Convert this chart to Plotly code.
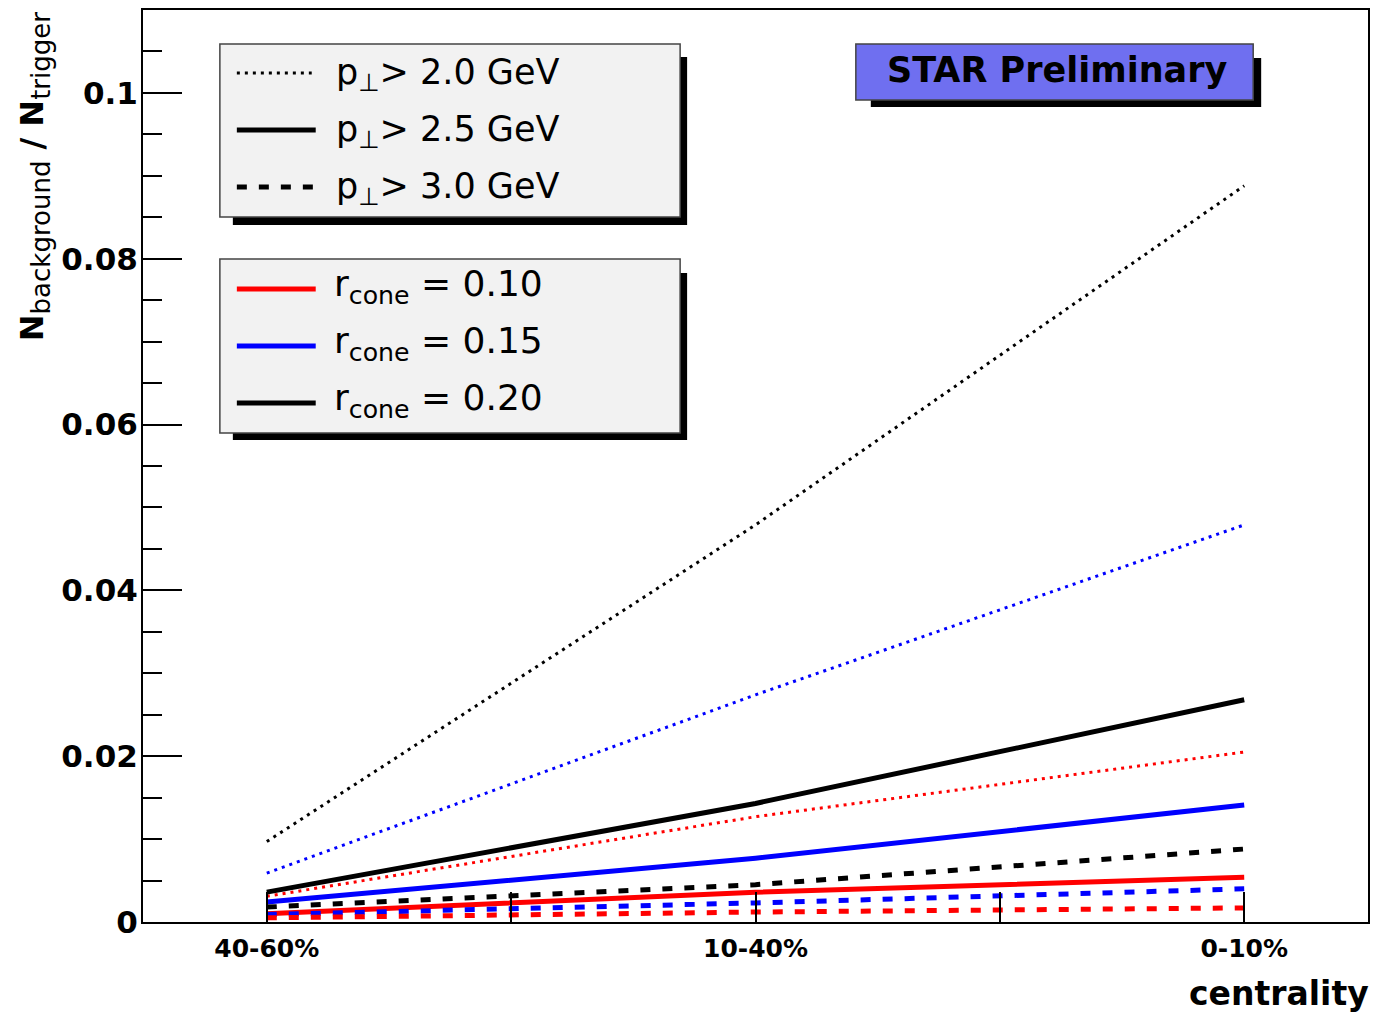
import plotly.graph_objects as go

# ---------------- data ----------------
categories = ["40-60%", "10-40%", "0-10%"]
x_pos = [0, 1, 2]

# N_background / N_trigger, by pT cut and cone radius
pt20_r010 = [0.0031, 0.0127, 0.0205]
pt20_r015 = [0.0059, 0.0274, 0.0479]
pt20_r020 = [0.0097, 0.0479, 0.0888]
pt25_r010 = [0.0010, 0.0036, 0.0054]
pt25_r015 = [0.0024, 0.0077, 0.0141]
pt25_r020 = [0.0036, 0.0143, 0.0268]
pt30_r010 = [0.0005, 0.0012, 0.0017]
pt30_r015 = [0.0009, 0.0023, 0.0040]
pt30_r020 = [0.0018, 0.0045, 0.0088]

y_tickvals = [0, 0.02, 0.04, 0.06, 0.08, 0.1]
y_ticktext = ["0", "0.02", "0.04", "0.06", "0.08", "0.1"]
x_minor_ticks = [0.5, 1.5]

# ---------------- geometry helpers ----------------
W, H = 1374, 1015
L, R, T, B = 143, 4, 10, 93
PW, PH = W - L - R, H - T - B

def px(x):
    return (x - L) / PW

def py(y):
    return (H - B - y) / PH

RED, BLUE, BLACK = "#ff0000", "#0000ff", "#000000"
DOT = "3px,5px"
DASH = "10px,12px"

series = [
    (pt20_r020, BLACK, DOT, 3),
    (pt20_r015, BLUE, DOT, 3),
    (pt20_r010, RED, DOT, 3),
    (pt25_r020, BLACK, "solid", 5),
    (pt25_r015, BLUE, "solid", 5),
    (pt25_r010, RED, "solid", 5),
    (pt30_r020, BLACK, DASH, 5),
    (pt30_r015, BLUE, DASH, 5),
    (pt30_r010, RED, DASH, 5),
]

fig = go.Figure()
for vals, col, dash, w in series:
    fig.add_trace(go.Scatter(x=x_pos, y=vals, mode="lines",
                             line=dict(color=col, dash=dash, width=w),
                             showlegend=False, hoverinfo="skip"))

shapes = []
annotations = []

def rect(x0, y0, x1, y1, fill, line_color=None, lw=0):
    shapes.append(dict(type="rect", xref="paper", yref="paper",
                       x0=px(x0), x1=px(x1), y0=py(y1), y1=py(y0),
                       fillcolor=fill,
                       line=dict(color=line_color or fill, width=lw),
                       layer="above"))

def seg(x0, x1, y, col, dash, w):
    shapes.append(dict(type="line", xref="paper", yref="paper",
                       x0=px(x0), x1=px(x1), y0=py(y), y1=py(y),
                       line=dict(color=col, dash=dash, width=w),
                       layer="above"))

def text(x, y, s, size, bold=False, xanchor="left", angle=0, yanchor="middle"):
    annotations.append(dict(xref="paper", yref="paper", x=px(x), y=py(y),
                            text=s, showarrow=False, xanchor=xanchor,
                            yanchor=yanchor, textangle=angle,
                            font=dict(family="DejaVu Sans", size=size, color="black",
                                      weight="bold" if bold else "normal")))

# legend 1 (pT cuts)
rect(233, 57, 688, 225, "black")
rect(220, 44, 681, 217, "#f2f2f2", "#444444", 1.5)
seg(237, 312, 73, BLACK, DOT, 3)
seg(237, 316, 130, BLACK, "solid", 5)
seg(237, 316, 187, BLACK, DASH, 5)
text(334, 74, "p<sub>⊥</sub>> 2.0 GeV", 35)
text(334, 131, "p<sub>⊥</sub>> 2.5 GeV", 35)
text(334, 188, "p<sub>⊥</sub>> 3.0 GeV", 35)

# legend 2 (cone radius)
rect(233, 273, 688, 440, "black")
rect(220, 259, 681, 433, "#f2f2f2", "#444444", 1.5)
seg(237, 316, 289, RED, "solid", 5)
seg(237, 316, 346, BLUE, "solid", 5)
seg(237, 316, 403, BLACK, "solid", 5)
text(332, 286, "r<sub>cone</sub> = 0.10", 36)
text(332, 343, "r<sub>cone</sub> = 0.15", 36)
text(332, 400, "r<sub>cone</sub> = 0.20", 36)

# STAR Preliminary box
rect(872, 58, 1263, 107, "black")
rect(857, 44, 1255, 100, "#6f6ff0", "#444444", 1.5)
text(1058, 70, "STAR Preliminary", 35, bold=True, xanchor="center")

# axis titles
text(1373, 993, "centrality", 33, bold=True, xanchor="right")
text(34, 177,
     "<b>N</b><sub><span style='font-size:26px'>background</span></sub><b> / N</b><sub><span style='font-size:26px'>trigger</span></sub>",
     32, angle=-90, xanchor="center")

fig.update_layout(
    width=W, height=H,
    margin=dict(l=L, r=R, t=T, b=B, pad=0),
    paper_bgcolor="white", plot_bgcolor="white",
    shapes=shapes, annotations=annotations,
    showlegend=False,
    xaxis=dict(range=[-0.2533, 2.2533], tickmode="array",
               tickvals=x_pos, ticktext=categories,
               ticks="inside", ticklen=30, tickwidth=1.5, tickcolor="black",
               minor=dict(tickmode="array", tickvals=x_minor_ticks, ticks="inside",
                          ticklen=30, tickwidth=1.5, tickcolor="black", showgrid=False),
               showline=True, linewidth=2, linecolor="black", mirror=True,
               showgrid=False, zeroline=False, ticklabelstandoff=3,
               tickfont=dict(family="DejaVu Sans", size=25, color="black", weight="bold")),
    yaxis=dict(range=[0, 0.11], tickmode="array",
               tickvals=y_tickvals, ticktext=y_ticktext,
               ticks="inside", ticklen=39, tickwidth=1.5, tickcolor="black",
               minor=dict(tickmode="linear", tick0=0, dtick=0.005, ticks="inside",
                          ticklen=19, tickwidth=1.5, tickcolor="black", showgrid=False),
               showline=True, linewidth=2, linecolor="black", mirror=True,
               showgrid=False, zeroline=False, ticklabelstandoff=-3,
               tickfont=dict(family="DejaVu Sans", size=31, color="black", weight="bold")),
)

fig.write_html("out.html")
